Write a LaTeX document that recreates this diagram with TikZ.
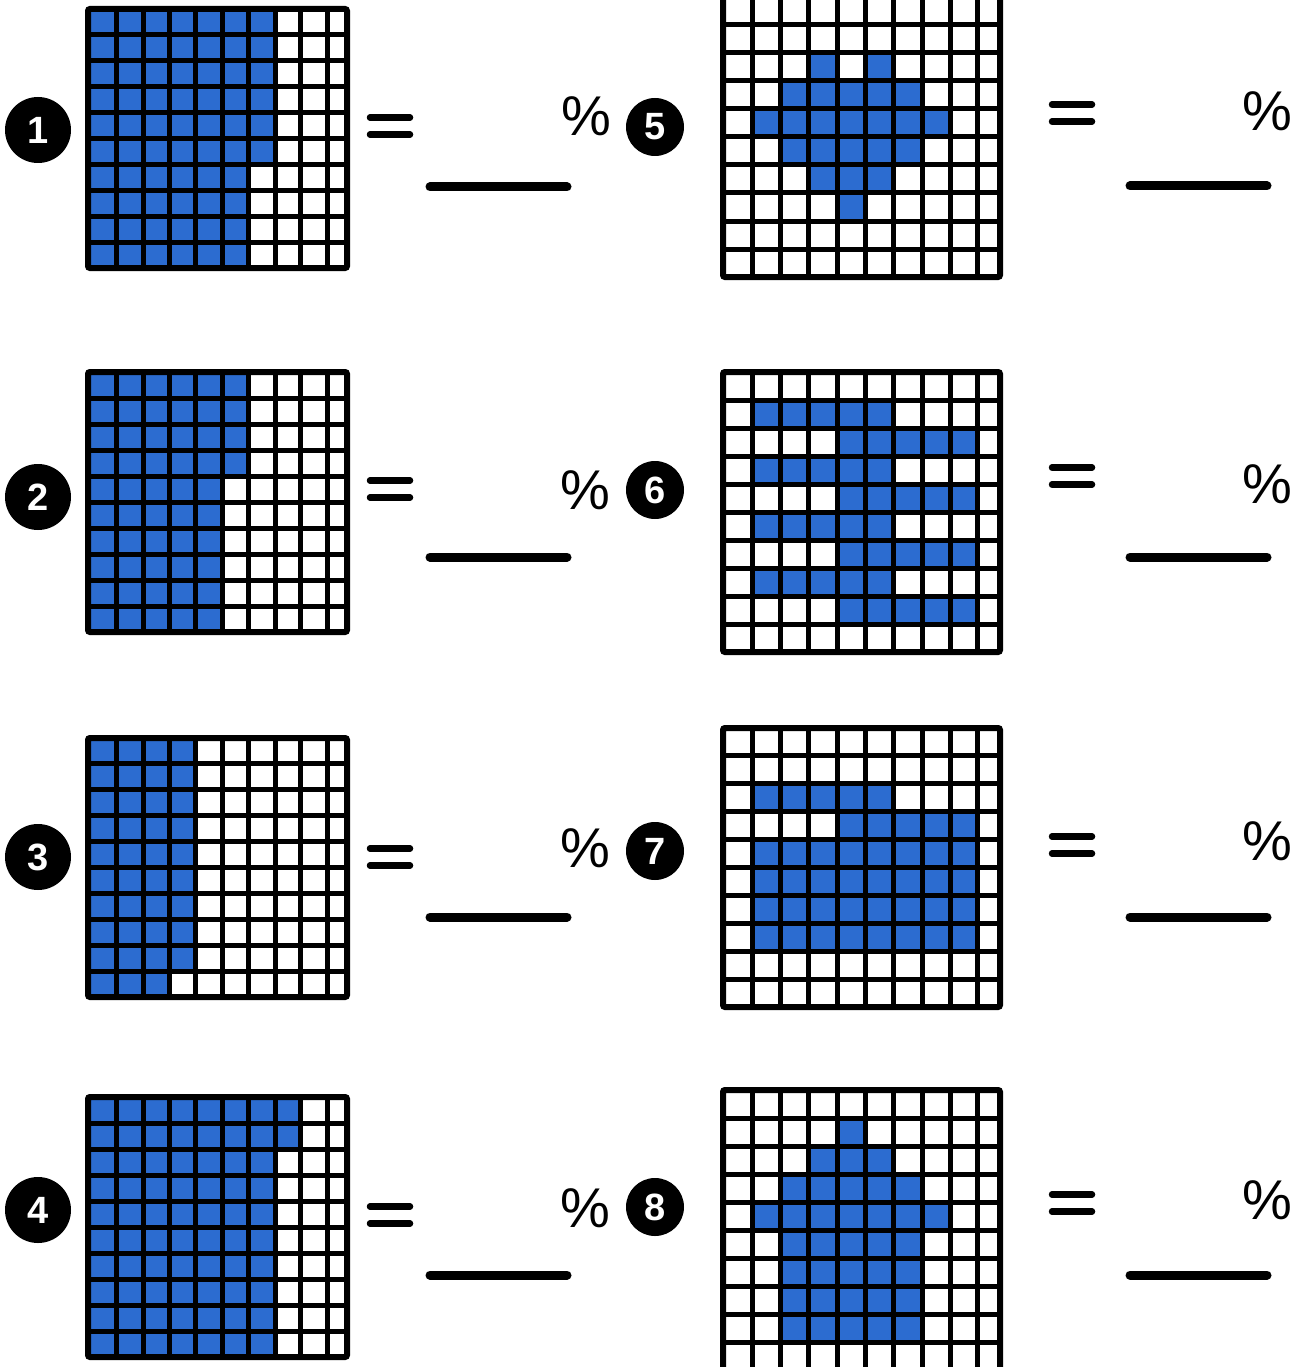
\documentclass[tikz,border=0pt]{standalone}
\usepackage{fontspec}
\setmainfont{Liberation Sans}
\definecolor{cellblue}{RGB}{44,108,208}
\tikzset{
 numdot/.style={circle, fill=black, text=white, inner sep=0pt, font=\bfseries\fontsize{38}{38}\selectfont},
 pct/.style={font=\fontsize{56}{56}\selectfont, inner sep=0pt},
 eqbar/.style={line width=6.5pt, line cap=round},
 answer/.style={line width=9pt, line cap=round},
 gridline/.style={line width=5pt},
 gridframe/.style={line width=6pt, rounded corners=2pt},
}
\def\colsL{{88,116,143,169,195,222,248,275,300,327,347}}
\def\colsR{{723,752,780,808,837,865,893,922,950,977,1000}}
\newcommand\cellgrid[4]{%
 \pgfmathsetmacro\gtop{#2}\pgfmathsetmacro\gbot{#3}\pgfmathsetmacro\gh{(#3-#2)/10}%
 \foreach \ra/\rb/\ca/\cb in {#4}{%
   \pgfmathsetmacro\xa{#1[\ca]}\pgfmathsetmacro\xb{#1[\cb+1]}%
   \pgfmathsetmacro\ya{\gtop+\ra*\gh}\pgfmathsetmacro\yb{\gtop+(\rb+1)*\gh}%
   \fill[cellblue] (\xa,\ya) rectangle (\xb,\yb);}%
 \pgfmathsetmacro\xl{#1[0]}\pgfmathsetmacro\xr{#1[10]}%
 \foreach \i in {1,...,9}{%
   \pgfmathsetmacro\xv{#1[\i]}\pgfmathsetmacro\yh{\gtop+\i*\gh}%
   \draw[gridline] (\xv,\gtop) -- (\xv,\gbot);
   \draw[gridline] (\xl,\yh) -- (\xr,\yh);}%
 \draw[gridframe] (\xl,\gtop) rectangle (\xr,\gbot);}
\newcommand\eqsign[2]{%
 \draw[eqbar] (#1-20,#2-8.5) -- (#1+20,#2-8.5);
 \draw[eqbar] (#1-20,#2+8.5) -- (#1+20,#2+8.5);}
\begin{document}
\begin{tikzpicture}[x=1pt,y=-1pt]
\useasboundingbox (0,0) rectangle (1302,1367);
\fill[white] (0,0) rectangle (1302,1367);
% grids
\cellgrid{\colsL}{9}{268}{0/5/0/6, 6/9/0/5}
\cellgrid{\colsL}{372}{632}{0/3/0/5, 4/9/0/4}
\cellgrid{\colsL}{738}{997}{0/8/0/3, 9/9/0/2}
\cellgrid{\colsL}{1097}{1357}{0/1/0/7, 2/9/0/6}
\cellgrid{\colsR}{-3}{277}{2/2/3/3, 2/2/5/5, 3/3/2/6, 4/4/1/7, 5/5/2/6, 6/6/3/5, 7/7/4/4}
\cellgrid{\colsR}{372}{652}{1/1/1/5, 2/2/4/8, 3/3/1/5, 4/4/4/8, 5/5/1/5, 6/6/4/8, 7/7/1/5, 8/8/4/8}
\cellgrid{\colsR}{728}{1007}{2/2/1/5, 3/3/4/8, 4/7/1/8}
\cellgrid{\colsR}{1090}{1370}{1/1/4/4, 2/2/3/5, 3/3/2/6, 4/4/1/7, 5/8/2/6}
% number badges
\node[numdot, minimum size=66pt] (n1) at (38,130) {1};
\node[numdot, minimum size=66pt] (n2) at (38,497) {2};
\node[numdot, minimum size=66pt] (n3) at (38,857) {3};
\node[numdot, minimum size=66pt] (n4) at (38,1210) {4};
\node[numdot, minimum size=58pt] (n5) at (655,127) {5};
\node[numdot, minimum size=58pt] (n6) at (655,490) {6};
\node[numdot, minimum size=58pt] (n7) at (655,851) {7};
\node[numdot, minimum size=58pt] (n8) at (655,1207) {8};
% equals signs
\eqsign{390}{126}
\eqsign{390}{489}
\eqsign{390}{857}
\eqsign{390}{1215}
\eqsign{1072}{113}
\eqsign{1072}{476}
\eqsign{1072}{845}
\eqsign{1072}{1203}
% answer lines
\foreach \y in {187,557,917,1275}{\draw[answer] (430,\y) -- (567,\y);}
\foreach \y in {186,557,917,1275}{\draw[answer] (1130,\y) -- (1267,\y);}
% percent signs
\node[pct] (p1) at (586,116) {\%};
\node[pct] (p2) at (585,490) {\%};
\node[pct] (p3) at (585,848) {\%};
\node[pct] (p4) at (585,1208) {\%};
\node[pct] (p5) at (1267,111) {\%};
\node[pct] (p6) at (1267,484) {\%};
\node[pct] (p7) at (1267,841) {\%};
\node[pct] (p8) at (1267,1200) {\%};
\end{tikzpicture}
\end{document}
